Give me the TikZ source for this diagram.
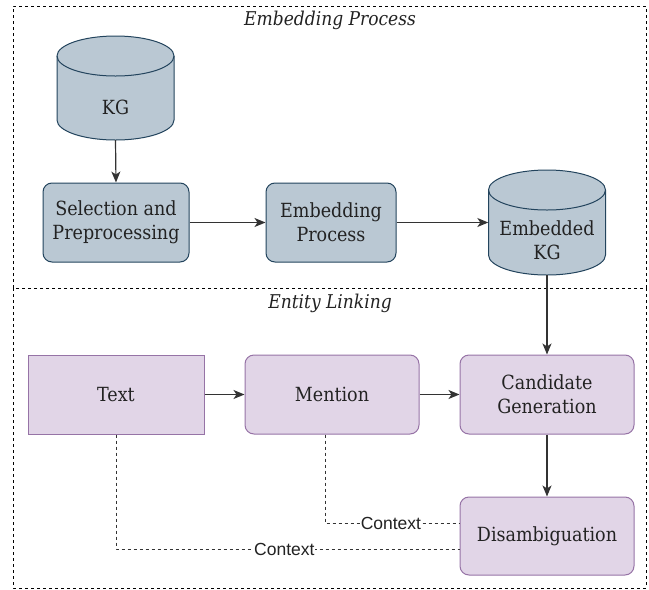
\documentclass[tikz,border=0pt]{standalone}
\usepackage{fontspec}
\setmainfont{DejaVu Serif Condensed}
\newfontfamily\ctxfont{Liberation Sans}
\usetikzlibrary{arrows.meta,calc}

\definecolor{kgfill}{HTML}{BAC8D3}
\definecolor{kgline}{HTML}{23445D}
\definecolor{elfill}{HTML}{E1D5E7}
\definecolor{elline}{HTML}{9673A6}
\definecolor{ink}{HTML}{222222}
\definecolor{wire}{HTML}{333333}

\tikzset{
  frame/.style={draw=black, line width=0.8pt, dash pattern=on 3pt off 3pt},
  title/.style={font=\fontsize{19}{24}\selectfont\itshape, text=ink, inner sep=0pt},
  lbl/.style={font=\fontsize{19.5}{24}\selectfont, text=ink, align=center, inner sep=0pt},
  bluebox/.style={lbl, draw=kgline, fill=kgfill, line width=1pt, rounded corners=9pt,
    minimum width=146pt, minimum height=79pt},
  cylbody/.style={draw=kgline, fill=kgfill, line width=1pt},
  cylslot/.style={inner sep=0pt, minimum width=117pt, minimum height=104pt},
  purplebox/.style={lbl, draw=elline, fill=elfill, line width=1pt, rounded corners=9pt,
    minimum width=174pt, minimum height=79pt},
  flatbox/.style={purplebox, rounded corners=0pt, minimum width=176pt},
  arr/.style={draw=wire, line width=1.2pt, -{Stealth[length=11pt,width=9pt,inset=3pt]}},
  ctx/.style={draw=wire, line width=0.8pt, dash pattern=on 3pt off 3pt},
  clab/.style={font=\ctxfont\fontsize{17.5}{19}\selectfont, text=ink, fill=white, inner sep=1pt}
}

\begin{document}
\begin{tikzpicture}[x=1pt, y=-1pt]
  \useasboundingbox (0,0) rectangle (649,590);

  % the two stage frames (shared edge drawn once)
  \draw[frame] (13,288) -- (13,6) -- (646,6) -- (646,288) -- cycle;
  \draw[frame] (13,288) -- (13,588) -- (646,588) -- (646,288);
  \node[title] (ttop) at (330,20) {Embedding Process};
  \node[title] (tbot) at (330,303) {Entity Linking};

  % knowledge graph store
  \path[cylbody] (57,56) -- (57,120)
    arc[start angle=180, end angle=360, x radius=58.5pt, y radius=20pt]
    -- (174,56)
    arc[start angle=0, end angle=180, x radius=58.5pt, y radius=20pt] -- cycle;
  \draw[cylbody, fill=none] (57,56)
    arc[start angle=180, end angle=360, x radius=58.5pt, y radius=20pt];
  \node[cylslot] (kg) at (115.5,88) {};
  \node[lbl] (kgtxt) at (115.5,107) {KG};

  % embedded knowledge graph store
  \path[cylbody] (488.5,190) -- (488.5,255)
    arc[start angle=180, end angle=360, x radius=58.5pt, y radius=20pt]
    -- (605.5,190)
    arc[start angle=0, end angle=180, x radius=58.5pt, y radius=20pt] -- cycle;
  \draw[cylbody, fill=none] (488.5,190)
    arc[start angle=180, end angle=360, x radius=58.5pt, y radius=20pt];
  \node[cylslot, minimum height=105pt] (ekg) at (547,222.5) {};
  \node[lbl] (ekgtxt) at (547,240) {Embedded\\KG};

  % embedding stage
  \node[bluebox] (sel) at (116,222.5) {Selection and\\Preprocessing};
  \node[bluebox, minimum width=130pt] (emb) at (331,222.5) {Embedding\\Process};

  % entity linking stage
  \node[flatbox] (txt) at (116,394.5) {Text};
  \node[purplebox] (men) at (332,394.5) {Mention};
  \node[purplebox] (cand) at (547,394.5) {Candidate\\Generation};
  \node[purplebox, minimum height=78pt] (dis) at (547,536) {Disambiguation};

  % flow
  \draw[arr] (kg.south) -- (sel.north);
  \draw[arr] (sel.east) -- (emb.west);
  \draw[arr] (emb.east) -- (ekg.west);
  \draw[arr] (ekg.south) -- (cand.north);
  \draw[arr] (txt.east) -- (men.west);
  \draw[arr] (men.east) -- (cand.west);
  \draw[arr] (cand.south) -- (dis.north);

  % context links
  \draw[ctx] ($(men.south)+(-7,0)$) |- node[pos=0.745, clab] {Context} ($(dis.west)+(0,-13)$);
  \draw[ctx] (txt.south) |- node[pos=0.745, clab] {Context} ($(dis.west)+(0,13)$);
\end{tikzpicture}
\end{document}
